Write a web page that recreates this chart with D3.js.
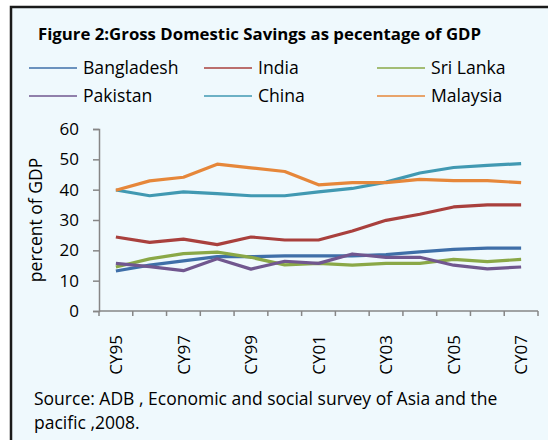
<!DOCTYPE html>
<html>
<head>
<meta charset="utf-8">
<script src="https://cdn.jsdelivr.net/npm/d3@7"></script>
<style>
  html, body { margin: 0; padding: 0; background: #ffffff; }
  svg { display: block; font-family: "Open Sans", sans-serif; }
</style>
</head>
<body>
<div id="graphic"></div>
<script>
// data
var years = ["CY95","CY96","CY97","CY98","CY99","CY00","CY01","CY02","CY03","CY04","CY05","CY06","CY07"];
var yearLabels = ["CY95","CY97","CY99","CY01","CY03","CY05","CY07"];
var yTicks = [0, 10, 20, 30, 40, 50, 60];

var bangladesh = [13.2, 15.1, 16.5, 17.9, 17.9, 18.2, 18.2, 18.2, 18.6, 19.5, 20.3, 20.7, 20.7];
var india      = [24.4, 22.6, 23.7, 21.9, 24.4, 23.4, 23.4, 26.4, 29.9, 31.9, 34.3, 35.0, 35.0];
var sriLanka   = [14.5, 17.2, 18.9, 19.4, 17.7, 15.2, 15.7, 15.1, 15.7, 15.7, 17.0, 16.3, 17.0];
var pakistan   = [15.7, 14.6, 13.3, 17.2, 13.8, 16.4, 15.7, 18.8, 17.7, 17.7, 15.1, 13.9, 14.5];
var china      = [39.9, 38.0, 39.3, 38.7, 38.0, 38.0, 39.3, 40.4, 42.5, 45.5, 47.3, 48.0, 48.6];
var malaysia   = [39.8, 42.9, 44.1, 48.4, 47.2, 46.0, 41.6, 42.3, 42.3, 43.4, 43.0, 43.0, 42.3];

var seriesNames = ["Bangladesh", "India", "Sri Lanka", "Pakistan", "China", "Malaysia"];
var seriesValues = [bangladesh, india, sriLanka, pakistan, china, malaysia];
var seriesColors = ["#3f6fa8", "#a9403d", "#8aa847", "#71578f", "#4199b2", "#e6873a"];

var width = 548, height = 440;

var svg = d3.select("#graphic").append("svg")
    .attr("width", width)
    .attr("height", height);

// panel background and frame (runs off the right and bottom edge)
svg.append("rect")
    .attr("x", 11).attr("y", 7)
    .attr("width", width).attr("height", height)
    .style("fill", "#eff9fd")
    .style("stroke", "#1a1a1a")
    .style("stroke-width", 2.5);

// title
svg.append("text")
    .attr("x", 38).attr("y", 40)
    .style("font-size", "16.8px")
    .style("font-weight", "bold")
    .style("fill", "#000")
    .text("Figure 2:Gross Domestic Savings as pecentage of GDP");

// legend
var legendX = [29, 204, 377];
var legendY = [68, 96];
var legend = svg.selectAll(".legend").data(seriesNames).enter().append("g")
    .attr("class", "legend")
    .attr("transform", function(d, i) {
        return "translate(" + legendX[i % 3] + "," + legendY[Math.floor(i / 3)] + ")";
    });
legend.append("line")
    .attr("x1", 0).attr("x2", 48)
    .attr("y1", 0).attr("y2", 0)
    .style("stroke", function(d, i) { return seriesColors[i]; })
    .style("stroke-width", 1.5);
legend.append("text")
    .attr("x", 54).attr("y", 0)
    .attr("dy", "0.36em")
    .style("font-size", "17.6px")
    .style("fill", "#000")
    .text(function(d) { return d; });

// scales
var x = d3.scaleBand().domain(years).range([99, 538]);
var y = d3.scaleLinear().domain([0, 60]).range([311, 129]);

// y axis
var yAxis = svg.append("g")
    .attr("transform", "translate(99,0)")
    .call(d3.axisLeft(y).tickValues(yTicks).tickSize(6).tickPadding(14));
yAxis.select(".domain").style("stroke", "#868686").style("stroke-width", 1.5);
yAxis.selectAll(".tick line").style("stroke", "#868686").style("stroke-width", 1.5);
yAxis.selectAll(".tick text")
    .style("font-size", "17px")
    .style("font-family", "Open Sans, sans-serif")
    .style("fill", "#000");

// x axis: tick marks on category boundaries, labels on every second year
var xAxis = svg.append("g")
    .attr("transform", "translate(0,311)");
xAxis.append("line")
    .attr("x1", 99).attr("x2", 538)
    .style("stroke", "#868686").style("stroke-width", 1.5);
var bounds = years.map(function(d) { return x(d); }).concat([x.range()[1]]);
xAxis.selectAll(".xtick").data(bounds).enter().append("line")
    .attr("class", "xtick")
    .attr("x1", function(d) { return d; }).attr("x2", function(d) { return d; })
    .attr("y1", 0).attr("y2", 5)
    .style("stroke", "#868686").style("stroke-width", 1.5);
xAxis.selectAll(".xlabel").data(yearLabels).enter().append("text")
    .attr("class", "xlabel")
    .attr("transform", function(d) {
        return "translate(" + (x(d) + x.bandwidth() / 2) + ",24) rotate(-90)";
    })
    .attr("dy", "0.36em")
    .attr("text-anchor", "end")
    .style("font-size", "17px")
    .style("fill", "#000")
    .text(function(d) { return d; });

// y axis title
svg.append("text")
    .attr("transform", "translate(42,220) rotate(-90)")
    .attr("text-anchor", "middle")
    .style("font-size", "17.5px")
    .style("fill", "#000")
    .text("percent of GDP");

// lines
var line = d3.line()
    .x(function(d, i) { return x(years[i]) + x.bandwidth() / 2; })
    .y(function(d) { return y(d); });

svg.selectAll(".series").data(seriesValues).enter().append("path")
    .attr("class", "series")
    .attr("d", line)
    .style("fill", "none")
    .style("stroke", function(d, i) { return seriesColors[i]; })
    .style("stroke-width", 3.2)
    .style("stroke-linejoin", "round");

// source note
var source = svg.append("text")
    .attr("x", 34).attr("y", 405)
    .style("font-size", "17.5px")
    .style("fill", "#000");
source.append("tspan").attr("x", 34).text("Source: ADB , Economic and social survey of Asia and the");
source.append("tspan").attr("x", 34).attr("dy", 24).text("pacific ,2008.");
</script>
</body>
</html>
